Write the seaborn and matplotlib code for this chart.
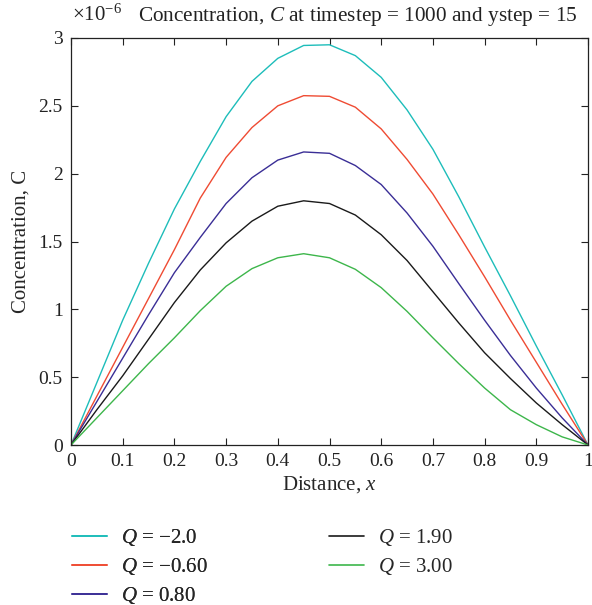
import numpy as np
import pandas as pd
import seaborn as sns
import matplotlib
matplotlib.use("Agg")
import matplotlib.pyplot as plt
from matplotlib.ticker import FormatStrFormatter

# ---- data (concentration in units of 1e-6) ----
x_vals = [0.00, 0.05, 0.10, 0.15, 0.20, 0.25, 0.30, 0.35, 0.40, 0.45, 0.50,
          0.55, 0.60, 0.65, 0.70, 0.75, 0.80, 0.85, 0.90, 0.95, 1.00]
c_q_m2_0 = [0, 0.46, 0.92, 1.34, 1.74, 2.09, 2.42, 2.68, 2.85, 2.945, 2.95,
            2.87, 2.71, 2.47, 2.18, 1.83, 1.46, 1.10, 0.73, 0.37, 0]
c_q_m0_60 = [0, 0.36, 0.72, 1.08, 1.44, 1.82, 2.12, 2.34, 2.50, 2.575, 2.57,
             2.49, 2.33, 2.105, 1.85, 1.55, 1.24, 0.92, 0.61, 0.30, 0]
c_q_0_80 = [0, 0.32, 0.64, 0.96, 1.27, 1.53, 1.78, 1.97, 2.10, 2.16, 2.15,
            2.06, 1.92, 1.71, 1.465, 1.19, 0.92, 0.66, 0.42, 0.20, 0]
c_q_1_90 = [0, 0.26, 0.51, 0.78, 1.05, 1.29, 1.49, 1.65, 1.76, 1.80, 1.78,
            1.695, 1.55, 1.36, 1.13, 0.90, 0.68, 0.49, 0.31, 0.15, 0]
c_q_3_00 = [0, 0.20, 0.40, 0.60, 0.79, 0.99, 1.17, 1.30, 1.38, 1.41, 1.38,
            1.295, 1.16, 0.985, 0.79, 0.60, 0.42, 0.26, 0.15, 0.06, 0]
series_labels = ["$Q$ = \u22122.0", "$Q$ = \u22120.60", "$Q$ = 0.80",
                 "$Q$ = 1.90", "$Q$ = 3.00"]
series_values = [c_q_m2_0, c_q_m0_60, c_q_0_80, c_q_1_90, c_q_3_00]
colors = ["#1DBDBA", "#EF4B33", "#3A2E96", "#1A1A1A", "#3DB64B"]
x_ticks = [0, 0.1, 0.2, 0.3, 0.4, 0.5, 0.6, 0.7, 0.8, 0.9, 1]
y_ticks = [0, 0.5, 1, 1.5, 2, 2.5, 3]

df = pd.concat([pd.DataFrame({"x": x_vals, "C": v, "Q": lab})
                for lab, v in zip(series_labels, series_values)],
               ignore_index=True)

sns.set_style("ticks")
plt.rcParams["font.family"] = ["Liberation Serif", "DejaVu Serif"]
plt.rcParams["mathtext.fontset"] = "custom"
plt.rcParams["mathtext.rm"] = "Liberation Serif"
plt.rcParams["mathtext.it"] = "Liberation Serif:italic"

W, H = 592, 605
fig = plt.figure(figsize=(W/100, H/100), dpi=100)
ax = fig.add_axes([71/W, 1-445/H, (588-71)/W, (445-38)/H])

sns.lineplot(data=df, x="x", y="C", hue="Q", palette=colors, ax=ax,
             linewidth=1.0, legend=False, sort=False)

ax.set_xlim(0, 1)
ax.set_ylim(0, 3)
ax.set_xticks(x_ticks)
ax.set_yticks(y_ticks)
ax.xaxis.set_major_formatter(FormatStrFormatter("%g"))
ax.yaxis.set_major_formatter(FormatStrFormatter("%g"))
ax.tick_params(direction="in", top=True, right=True, length=5, width=0.8,
               labelsize=14, colors="#222222", pad=6)
for s in ax.spines.values():
    s.set_linewidth(0.9)
    s.set_color("#222222")

ax.set_xlabel("Distance, $x$", fontsize=15, labelpad=3)
ax.set_ylabel("Concentration, C", fontsize=15, labelpad=6)

fig.text(138/W, 1-21/H,
         "Concentration, $C$ at timestep = 1000 and ystep = 15",
         fontsize=15.3, ha="left", va="baseline", color="#222222")
fig.text(72/W, 1-21/H, "\u00d710$^{-6}$", fontsize=15,
         ha="left", va="baseline", color="#222222")

handles = [plt.Line2D([], [], color=c, lw=1.2) for c in colors]
leg_kw = dict(loc="upper left", frameon=False, fontsize=15,
              handlelength=1.7, handletextpad=0.65, labelspacing=0.38,
              borderpad=0, borderaxespad=0)
leg1 = fig.legend(handles[:3], series_labels[:3],
                  bbox_to_anchor=(72/W, 1-527/H), **leg_kw)
fig.add_artist(leg1)
leg2 = fig.legend(handles[3:], series_labels[3:],
                  bbox_to_anchor=(329/W, 1-527/H), **leg_kw)

fig.savefig("out.png", dpi=100)
